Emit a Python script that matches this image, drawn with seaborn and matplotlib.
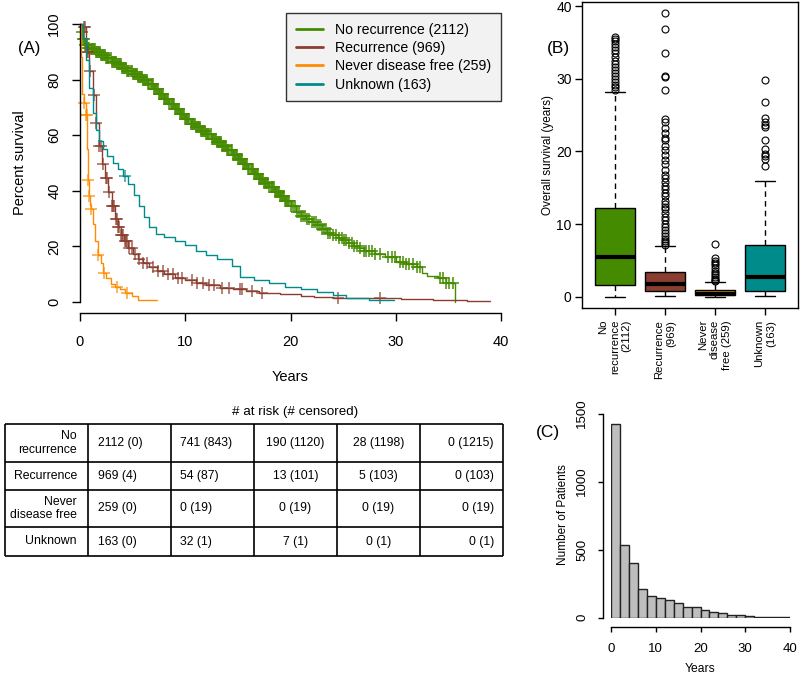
import numpy as np
import pandas as pd
import matplotlib.pyplot as plt
import seaborn as sns

sns.set_theme(style="ticks", rc={"axes.edgecolor": "black", "xtick.color": "black",
                                 "ytick.color": "black", "text.color": "black",
                                 "axes.labelcolor": "black", "axes.linewidth": 1.0})
plt.rcParams["font.family"] = ["Liberation Sans", "DejaVu Sans"]

# ── data ──────────────────────────────────────────────────────────────────────
groups = ["No recurrence", "Recurrence", "Never disease free", "Unknown"]
group_n = [2112, 969, 259, 163]
line_colors = ["#458B00", "#8B3E2F", "#FF8C00", "#008B8B"]
box_colors = ["#458B00", "#8B3E2F", "#CD8500", "#008B8B"]

# Kaplan-Meier curves (years, percent survival)
norec_t = [0, 0.15, 0.3, 0.5, 0.75, 1, 1.5, 2, 2.5, 3, 3.5, 4, 4.5, 5, 5.5, 6, 6.5, 7, 7.5, 8,
           8.5, 9, 9.5, 10, 10.5, 11, 11.5, 12, 12.5, 13, 13.5, 14, 14.5, 15, 15.5, 16, 16.5,
           17, 17.5, 18, 18.5, 19, 19.5, 20, 20.5, 21, 21.5, 22, 22.5, 23, 23.5, 24, 24.5, 25,
           25.5, 26, 26.5, 27, 28, 29, 30, 31, 32, 32.5, 33, 34, 34.8, 35.6]
norec_s = [100, 97, 94.5, 92.5, 91.5, 91, 90, 89, 87.7, 86.5, 85.5, 84.3, 83, 82, 81, 79.8,
           78.5, 76.5, 74.8, 73, 71.2, 69.3, 67.6, 65.8, 64.2, 62.8, 61.6, 60.3, 58.8, 57.5, 56,
           54.5, 53, 51.3, 49.5, 47.8, 46.1, 44.4, 42.8, 41.2, 39.7, 38.3, 36.5, 34.5, 32.5, 31,
           29.8, 28.8, 27.6, 26.3, 25, 24, 23, 22.2, 21.3, 20.2, 19.3, 18.5, 17.3, 16.2, 14.5,
           13.8, 12.7, 10.5, 9.3, 8.7, 7, 0]
rec_t = [0, 0.3, 0.6, 0.9, 1.2, 1.5, 1.8, 2.1, 2.4, 2.7, 3.0, 3.3, 3.6, 3.9, 4.2, 4.6, 5.0, 5.5,
         6.0, 6.6, 7.3, 8.0, 9.0, 10.0, 11.0, 12.0, 13.3, 14.5, 15.8, 17.0, 19.0, 21.0, 22.2,
         24.0, 30.5, 33.5, 36.8, 39.0]
rec_s = [100, 99, 90, 83, 74.5, 64.5, 56, 49.5, 44.5, 39.5, 34.5, 30, 26.8, 24, 21.8, 19.3,
         17.3, 15.5, 14, 12.5, 11, 10, 8.8, 7.8, 6.7, 6, 5.1, 4.5, 3.9, 3.4, 2.8, 2.3, 1.9, 1.6,
         1.1, 0.6, 0.3, 0.3]
ndf_t = [0, 0.1, 0.2, 0.35, 0.55, 0.65, 0.75, 0.85, 0.95, 1.05, 1.25, 1.45, 1.7, 1.95, 2.2,
         2.5, 2.9, 3.3, 3.8, 4.3, 4.9, 5.5, 7.3]
ndf_s = [100, 88, 75, 71.5, 67.3, 55, 44, 38, 35, 33.4, 28, 22, 17, 14, 10.5, 8.5, 6.5, 5.5,
         4.5, 3.2, 2, 0.8, 0.8]
unk_t = [0, 0.3, 0.6, 0.9, 1.2, 1.5, 1.8, 2.2, 2.6, 3.1, 3.6, 4.1, 4.6, 5.1, 5.6, 6.1, 6.6,
         7.2, 8.0, 9.0, 10.0, 11.0, 12.0, 13.0, 14.4, 15.2, 16.5, 18.0, 19.5, 21.0, 22.5, 24.0,
         25.3, 27.5, 29.8]
unk_s = [100, 95, 87, 77, 68, 62, 58, 55, 52.5, 50, 48, 45.5, 42.5, 38.5, 34.5, 30.5, 27, 24.5,
         23.5, 22, 20.5, 18.5, 17, 15.5, 13, 9, 8, 7, 5.5, 4.5, 3.5, 2.5, 1.5, 0.7, 0.7]

# censoring times (+ marks); the no-recurrence ones are so dense they form a band
norec_cens = [
    0.2, 0.3, 0.4, 0.5, 0.6, 0.7, 0.8, 0.9, 1.0, 1.1, 1.2, 1.3, 1.4, 1.5, 1.6, 1.7, 1.8, 1.9,
    2.0, 2.1, 2.2, 2.3, 2.4, 2.5, 2.6, 2.7, 2.8, 2.9, 3.0, 3.1, 3.2, 3.3, 3.4, 3.5, 3.6, 3.7,
    3.8, 3.9, 4.0, 4.1, 4.2, 4.3, 4.4, 4.5, 4.6, 4.7, 4.8, 4.9, 5.0, 5.1, 5.2, 5.3, 5.4, 5.5,
    5.6, 5.7, 5.8, 5.9, 6.0, 6.1, 6.2, 6.3, 6.4, 6.5, 6.6, 6.7, 6.8, 6.9, 7.0, 7.1, 7.2, 7.3,
    7.4, 7.5, 7.6, 7.7, 7.8, 7.9, 8.0, 8.1, 8.2, 8.3, 8.4, 8.5, 8.6, 8.7, 8.8, 8.9, 9.0, 9.1,
    9.2, 9.3, 9.4, 9.5, 9.6, 9.7, 9.8, 9.9, 10.0, 10.1, 10.2, 10.3, 10.4, 10.5, 10.6, 10.7,
    10.8, 10.9, 11.0, 11.1, 11.2, 11.3, 11.4, 11.5, 11.6, 11.7, 11.8, 11.9, 12.0, 12.1, 12.2,
    12.3, 12.4, 12.5, 12.6, 12.7, 12.8, 12.9, 13.0, 13.1, 13.2, 13.3, 13.4, 13.5, 13.6, 13.7,
    13.8, 13.9, 14.0, 14.1, 14.2, 14.3, 14.4, 14.5, 14.6, 14.7, 14.8, 14.9, 15.0, 15.1, 15.2,
    15.3, 15.4, 15.5, 15.6, 15.7, 15.8, 15.9, 16.0, 16.1, 16.2, 16.3, 16.4, 16.5, 16.6, 16.7,
    16.8, 16.9, 17.0, 17.1, 17.2, 17.3, 17.4, 17.5, 17.6, 17.7, 17.8, 17.9, 18.0, 18.1, 18.2,
    18.3, 18.4, 18.5, 18.6, 18.7, 18.8, 18.9, 19.0, 19.1, 19.2, 19.3, 19.4, 19.5, 19.6, 19.7,
    19.8, 19.9, 20.0, 20.2, 20.4, 20.6, 20.8, 21.0, 21.2, 21.4, 21.6, 21.8, 22.0, 22.2, 22.4,
    22.6, 22.8, 23.0, 23.2, 23.4, 23.6, 23.8, 24.0, 24.3, 24.6, 24.9, 25.1, 25.3, 25.6, 25.8,
    26.0, 26.3, 26.6, 27.0, 27.2, 27.5, 27.7, 28.0, 28.5, 29.3, 29.6, 29.9, 30.4, 30.7, 31.0,
    31.3, 31.6, 32.0, 32.3, 34.2, 34.5, 34.8, 35.1, 35.4]
rec_cens = [0.35, 0.5, 0.65, 0.8, 0.95, 1.3, 1.55, 1.85, 2.0, 2.2, 2.45, 2.6, 2.8, 3.0, 3.1,
            3.25, 3.4, 3.5, 3.65, 3.75, 3.9, 4.0, 4.1, 4.25, 4.4, 4.5, 4.7, 4.9, 5.2, 5.6, 6.0,
            6.4, 6.9, 7.4, 7.9, 8.4, 8.8, 9.3, 9.7, 10.6, 11.1, 11.7, 12.3, 12.7, 13.5, 14.2,
            15.2, 15.4, 16.3, 17.3, 24.5, 28.5]
ndf_cens = [0.4, 0.58, 0.62, 0.78, 0.88, 1.08, 1.75, 2.3, 3.5, 4.5]
unk_cens = [4.3]
cens_alpha = [0.9, 0.75, 0.75, 0.75]

# boxplot summaries of overall survival (years)
box_q1 = [1.56, 0.82, 0.18, 0.73]
box_med = [5.4, 1.74, 0.41, 2.75]
box_q3 = [12.23, 3.35, 0.92, 7.06]
box_lo = [0.0, 0.05, 0.0, 0.14]
box_hi = [28.2, 7.0, 1.97, 15.95]
norec_out = [28.4, 28.8, 29.2, 29.6, 30.0, 30.4, 30.8, 31.2, 31.6, 32.0, 32.4, 33.0, 33.6,
             34.0, 34.4, 34.8, 35.2, 35.5, 35.7]
rec_out = [7.1, 7.4, 7.7, 8.0, 8.4, 8.8, 9.2, 9.6, 10.0, 10.5, 11.0, 11.5, 12.0, 12.4, 12.8,
           13.2, 13.8, 14.3, 14.8, 15.3, 15.8, 16.3, 16.8, 17.5, 18.2, 18.8, 19.5, 20.2, 20.8,
           21.5, 21.8, 22.5, 23.2, 24.0, 24.4, 28.5, 30.3, 30.4, 33.6, 36.8, 39.0]
ndf_out = [2.1, 2.3, 2.5, 2.7, 3.0, 3.3, 3.6, 4.0, 4.3, 4.6, 4.9, 5.3, 7.2]
unk_out = [18.0, 18.9, 19.4, 19.6, 20.3, 21.5, 23.4, 23.6, 24.1, 24.6, 26.8, 29.8]
box_labels = ["No\nrecurrence\n(2112)", "Recurrence\n(969)", "Never\ndisease\nfree (259)",
              "Unknown\n(163)"]

# histogram of overall survival (2-year bins, 0-40)
hist_counts = [1422, 534, 400, 213, 157, 145, 130, 110, 78, 74, 54, 37, 34, 20, 15, 12, 5, 7, 2, 2]

# at-risk table
risk_rows = ["No\nrecurrence", "Recurrence", "Never\ndisease free", "Unknown"]
at_risk = [[2112, 741, 190, 28, 0], [969, 54, 13, 5, 0], [259, 0, 0, 0, 0], [163, 32, 7, 0, 0]]
censored = [[0, 843, 1120, 1198, 1215], [4, 87, 101, 103, 103], [0, 19, 19, 19, 19],
            [0, 1, 1, 1, 1]]

# ── layout helpers (pixel boxes) ──────────────────────────────────────────────
W, H = 800, 675
fig = plt.figure(figsize=(W / 100, H / 100), dpi=100)


def add_ax(x0, y0, x1, y1):
    return fig.add_axes([x0 / W, 1 - y1 / H, (x1 - x0) / W, (y1 - y0) / H])


def ftext(x, y, s, **kw):
    fig.text(x / W, 1 - y / H, s, **kw)


# ── Panel A: Kaplan-Meier ─────────────────────────────────────────────────────
axA = add_ax(80, 24, 501, 302)
curves = [(norec_t, norec_s, norec_cens), (rec_t, rec_s, rec_cens),
          (ndf_t, ndf_s, ndf_cens), (unk_t, unk_s, unk_cens)]
for (t, s, cens), c, g, n, a in zip(curves, line_colors, groups, group_n, cens_alpha):
    sns.lineplot(x=t, y=s, drawstyle="steps-post", estimator=None, sort=False,
                 color=c, lw=1.0, ax=axA, label=f"{g} ({n})", clip_on=False)
    idx = np.searchsorted(t, cens, side="right") - 1
    axA.plot(cens, np.array(s)[idx], ls="none", marker="+", ms=8, mew=1.2,
             color=c, alpha=a, clip_on=False)
axA.set_xlim(0, 40)
axA.set_ylim(0, 100)
axA.set_xticks([0, 10, 20, 30, 40])
axA.set_yticks([0, 20, 40, 60, 80, 100])
axA.set_xlabel("")
axA.set_ylabel("")
sns.despine(ax=axA)
axA.spines["bottom"].set_position(("outward", 8))
axA.tick_params(length=5.5, width=1, labelsize=10.5)
axA.tick_params(axis="x", pad=10)
axA.tick_params(axis="y", pad=8)
plt.setp(axA.get_yticklabels(), rotation=90, va="center")
leg = axA.legend(loc="upper right", bbox_to_anchor=(1.0, 1.04), borderaxespad=0,
                 fontsize=10.2, frameon=True, fancybox=False, framealpha=1,
                 facecolor="#F2F2F2", edgecolor="#333333", handlelength=1.9,
                 handletextpad=0.85, labelspacing=0.3, borderpad=0.7)
for ln in leg.get_lines():
    ln.set_linewidth(2)
ftext(29, 48, "(A)", fontsize=12, ha="center", va="center")
ftext(20, 163, "Percent survival", fontsize=10.5, rotation=90, ha="center", va="center")
ftext(290.5, 377, "Years", fontsize=10.5, ha="center", va="center")

# ── Panel B: boxplots ─────────────────────────────────────────────────────────
axB = add_ax(582, 2, 798, 308)
outs = [norec_out, rec_out, ndf_out, unk_out]
stats = [dict(q1=a, med=b, q3=c, whislo=d, whishi=e, fliers=f)
         for a, b, c, d, e, f in zip(box_q1, box_med, box_q3, box_lo, box_hi, outs)]
bp = axB.bxp(stats, positions=[1, 2, 3, 4], widths=0.8, capwidths=0.4, patch_artist=True,
             boxprops=dict(edgecolor="black", linewidth=1),
             medianprops=dict(color="black", linewidth=3, solid_capstyle="butt"),
             whiskerprops=dict(color="black", linestyle=(0, (4, 3)), linewidth=1),
             capprops=dict(color="black", linewidth=1),
             flierprops=dict(marker="o", markerfacecolor="none", markeredgecolor="black",
                             markersize=5, markeredgewidth=0.8))
for patch, c in zip(bp["boxes"], box_colors):
    patch.set_facecolor(c)
axB.set_xlim(0.34, 4.66)
axB.set_ylim(-1.56, 40.56)
axB.set_yticks([0, 10, 20, 30, 40])
axB.set_xticks([1, 2, 3, 4])
axB.set_xticklabels(box_labels, rotation=90, ha="center", va="top",
                    multialignment="right", fontsize=8.2)
axB.tick_params(length=5, width=1)
axB.tick_params(axis="y", labelsize=10, pad=2.4)
axB.tick_params(axis="x", pad=3.6)
ftext(558, 48, "(B)", fontsize=12.5, ha="center", va="center")
ftext(548, 155, "Overall survival (years)", fontsize=8.5, rotation=90, ha="center",
      va="center")

# ── Panel C: histogram ────────────────────────────────────────────────────────
axC = add_ax(611, 413.5, 790, 617.5)
hist_df = pd.DataFrame({"years": np.arange(1, 40, 2), "count": hist_counts})
sns.histplot(data=hist_df, x="years", weights="count", bins=20, binrange=(0, 40),
             color="#BEBEBE", edgecolor="#222222", linewidth=1, alpha=1, ax=axC)
axC.set_xlim(0, 40)
axC.set_ylim(0, 1500)
axC.set_xlabel("")
axC.set_ylabel("")
axC.set_xticks([0, 10, 20, 30, 40])
axC.set_yticks([0, 500, 1000, 1500])
sns.despine(ax=axC)
axC.spines["bottom"].set_position(("outward", 6.5))
axC.spines["left"].set_position(("outward", 5.8))
axC.tick_params(length=3.5, width=1, labelsize=9.5)
axC.tick_params(axis="x", pad=8)
axC.tick_params(axis="y", pad=7)
plt.setp(axC.get_yticklabels(), rotation=90, va="center")
ftext(548, 432, "(C)", fontsize=12.5, ha="center", va="center")
ftext(563, 515, "Number of Patients", fontsize=8.5, rotation=90, ha="center", va="center")
ftext(700, 669, "Years", fontsize=8.7, ha="center", va="center")

# ── at-risk table ─────────────────────────────────────────────────────────────
col_edges = [5, 88, 171, 254, 337, 420, 503]
row_edges = [424, 462, 490, 527, 556]
axT = add_ax(0, 400, 560, 600)
axT.set_xlim(0, 560)
axT.set_ylim(600, 400)
axT.axis("off")
axT.hlines(row_edges, col_edges[0], col_edges[-1], color="black", lw=1.2)
axT.vlines(col_edges, row_edges[0], row_edges[-1], color="black", lw=1.2)
cell_x = [98, 180, 295.5, 378.5, 494]
cell_ha = ["left", "left", "center", "center", "right"]
for i, lab in enumerate(risk_rows):
    yc = (row_edges[i] + row_edges[i + 1]) / 2
    axT.text(77, yc, lab, ha="right", va="center", multialignment="right", fontsize=8.8,
             linespacing=1.15)
    for j in range(5):
        axT.text(cell_x[j], yc, f"{at_risk[i][j]} ({censored[i][j]})", ha=cell_ha[j],
                 va="center", fontsize=8.8)
ftext(295, 412, "# at risk (# censored)", fontsize=9.6, ha="center", va="center")

plt.savefig("out.png", dpi=100, facecolor="white")
